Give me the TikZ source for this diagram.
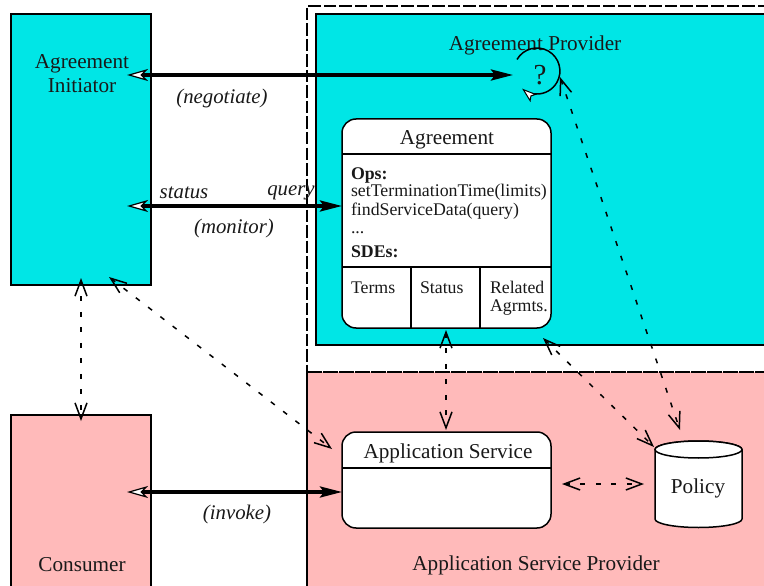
\documentclass[tikz,border=0pt]{standalone}
\usepackage{fontspec}
\setmainfont{Liberation Serif}
\usetikzlibrary{arrows.meta,calc}
\definecolor{cya}{RGB}{0,230,230}
\definecolor{pnk}{RGB}{255,186,186}
\tikzset{
  every node/.style={font=\fontsize{21.2}{24}\selectfont,text=black!90,inner sep=0pt,outer sep=0pt},
  boxline/.style={draw=black,line width=1.5pt},
  roundbox/.style={boxline,fill=white,rounded corners=14pt,anchor=north west},
  lbl/.style={font=\fontsize{20.8}{24}\itshape\selectfont},
  small/.style={font=\fontsize{17.8}{20}\selectfont,anchor=base west},
  solidarrow/.style={line width=3.4pt,{Stealth[length=21pt,width=12pt,inset=6pt,fill=white,line width=1.2pt]}-{Stealth[length=22pt,width=11pt,inset=4pt]}},
  dasharrow/.style={line width=1.5pt,dash pattern=on 5pt off 10.5pt,{Straight Barb[length=16pt,width=12pt,line width=1.5pt]}-{Straight Barb[length=16pt,width=12pt,line width=1.5pt]}},
  outerdash/.style={line width=1.5pt,dash pattern=on 12.5pt off 3pt},
}
\begin{document}
\begin{tikzpicture}[x=1pt,y=-1pt]
\useasboundingbox (0,0) rectangle (764,586);
\clip (0,0) rectangle (764,586);
% regions
\fill[white] (0,0) rectangle (764,586);
\node[boxline,fill=cya,minimum width=140pt,minimum height=271pt,anchor=north west] (initiator) at (11,14) {};
\node[boxline,fill=pnk,minimum width=140pt,minimum height=190pt,anchor=north west] (consumer) at (11,415) {};
\draw[outerdash] (770,6) -- (307,6) -- (307,372);
\node[boxline,fill=cya,minimum width=470pt,minimum height=331pt,anchor=north west] (provider) at (316,14) {};
\node[fill=pnk,minimum width=470pt,minimum height=230pt,anchor=north west] (asp) at (307,372) {};
\draw[line width=1.5pt] (asp.north west) -- (asp.south west);
\draw[line width=1.5pt,dash pattern=on 15pt off 1pt] (asp.north west) -- (asp.north east);
% labels of regions
\node (tInit) at (82,74) [align=center] {Agreement\\Initiator};
\node (tCons) at (82,565) {Consumer};
\node (tProv) at (535,45) {Agreement Provider};
\node (tAsp) at (536,565) {Application Service Provider};
% Agreement box
\node[roundbox,minimum width=209pt,minimum height=209pt] (agreement) at (342,119) {};
\draw[line width=1.5pt] (342,154) -- (551,154);
\draw[line width=1.5pt] (342,267) -- (551,267);
\draw[line width=1.5pt] (411,267) -- (411,328);
\draw[line width=1.5pt] (480,267) -- (480,328);
\node (tAgr) at (447,140) {Agreement};
\node[small] (ops) at (351,179.5) {\bfseries Ops:};
\node[small] (setT) at (351,196.5) {setTerminationTime(limits)};
\node[small] (findS) at (351,215) {findServiceData(query)};
\node[small] (dots) at (351,233) {...};
\node[small] (sdes) at (351,257) {\bfseries SDEs:};
\node[small] (terms) at (351,293) {Terms};
\node[small] (stat) at (420,293) {Status};
\node[small] (rel) at (490,293) {Related};
\node[small] (agrm) at (490,311) {Agrmts.};
% Application service
\node[roundbox,minimum width=209pt,minimum height=96pt] (appsvc) at (342,432) {};
\draw[line width=1.5pt] (342,468) -- (551,468);
\node (tApp) at (448,453) {Application Service};
% Policy cylinder
\draw[boxline,fill=white] (655,449.5) -- (655,519) arc[start angle=180,end angle=360,x radius=43.5pt,y radius=8.5pt] -- (742,449.5) arc[start angle=0,end angle=180,x radius=43.5pt,y radius=8.5pt] -- cycle;
\draw[boxline,fill=white] (698.5,449.5) ellipse[x radius=43.5pt,y radius=8.5pt];
\node (policy) at (698,488) {Policy};
% question loop
\node[font=\fontsize{29}{30}\selectfont] (question) at (540,75) {?};
\draw[line width=1.5pt,-{Stealth[length=15pt,width=10pt,inset=3pt,fill=white,line width=1pt]}]
  (517,59.5) arc[start angle=150,end angle=-130,radius=23pt];
% connector ends
\coordinate (negA) at (127,75);
\coordinate (negB) at (513,75);
\coordinate (monA) at (127,206);
\coordinate (monB) at (342,206);
\coordinate (invA) at (127,492);
\coordinate (invB) at (342,492);
\coordinate (iniS) at (81,278);
\coordinate (conN) at (81,421);
\coordinate (iniD) at (109,277);
\coordinate (appW) at (332,449);
\coordinate (agrS) at (446,330);
\coordinate (appN) at (446,430);
\coordinate (loopR) at (560,77);
\coordinate (polN) at (680,430);
\coordinate (agrD) at (543,338);
\coordinate (polW) at (654,447);
\coordinate (appE) at (562,484);
\coordinate (polE) at (644,484);
% solid connectors
\draw[solidarrow] (negA) -- (negB);
\draw[solidarrow] (monA) -- (monB);
\draw[solidarrow] (invA) -- (invB);
% dashed connectors
\draw[dasharrow] (iniS) -- (conN);
\draw[dasharrow] (iniD) -- (appW);
\draw[dasharrow] (agrS) -- (appN);
\draw[dasharrow] (loopR) -- (polN);
\draw[dasharrow] (agrD) -- (polW);
\draw[dasharrow] (appE) -- (polE);
% connector labels
\node[lbl] (lNeg) at (222,98) {(negotiate)};
\node[lbl] (lSta) at (184,193) {status};
\node[lbl] (lQue) at (291,193) {query};
\node[lbl] (lMon) at (234,228) {(monitor)};
\node[lbl] (lInv) at (237,514) {(invoke)};
\end{tikzpicture}
\end{document}
